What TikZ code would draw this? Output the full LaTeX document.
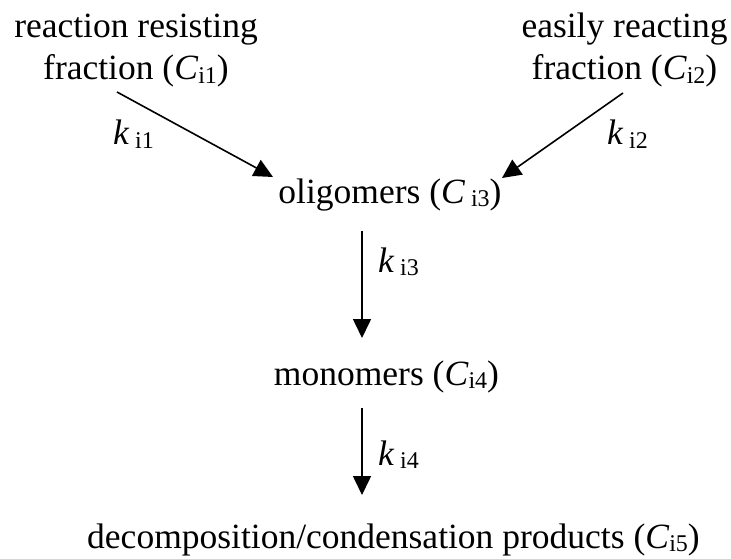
\documentclass[tikz,border=0pt]{standalone}
\usepackage{fontspec}
\setmainfont{Liberation Serif}
\usetikzlibrary{arrows.meta,calc}
\newcommand{\subi}[1]{\raisebox{-0.22ex}{\fontsize{24}{24}\selectfont #1}}
\begin{document}
\begin{tikzpicture}[x=1pt,y=-1pt,
  lbl/.style={inner sep=0pt,outer sep=0pt,font=\fontsize{35.5}{42}\selectfont},
  arr/.style={line width=1.6pt,-{Triangle[length=19pt,width=18pt]}}]
\useasboundingbox (0,0) rectangle (731,559);
\node[lbl,anchor=base] (a1) at (136,38) {reaction resisting};
\node[lbl,anchor=base] (a2) at (136,80) {fraction (\textit{C}\subi{i1})};
\node[lbl,anchor=base] (b1) at (624.5,38) {easily reacting};
\node[lbl,anchor=base] (b2) at (624.5,80) {fraction (\textit{C}\subi{i2})};
\node[lbl,anchor=base] (o) at (390,203) {oligomers (\textit{C}\,\subi{i3})};
\node[lbl,anchor=base] (m) at (386.5,385) {monomers (\textit{C}\subi{i4})};
\node[lbl,anchor=base] (p) at (393.5,548) {decomposition/condensation products (\textit{C}\subi{i5})};
\node[lbl,anchor=base west] (k1) at (113,145) {\textit{k}\,\subi{i1}};
\node[lbl,anchor=base west] (k2) at (607,145) {\textit{k}\,\subi{i2}};
\node[lbl,anchor=base west] (k3) at (378,272) {\textit{k}\,\subi{i3}};
\node[lbl,anchor=base west] (k4) at (378,465) {\textit{k}\,\subi{i4}};
\draw[arr] ($(a2.base)+(-19,12)$) -- ($(o.base)+(-117,-26)$);
\draw[arr] ($(b2.base)+(-1.5,13)$) -- ($(o.base)+(112,-25)$);
\draw[arr] ($(o.base)+(-28,28)$) -- ($(m.base)+(-24.5,-47)$);
\draw[arr] ($(m.base)+(-24.5,23)$) -- ($(p.base)+(-31.5,-53)$);
\end{tikzpicture}
\end{document}
